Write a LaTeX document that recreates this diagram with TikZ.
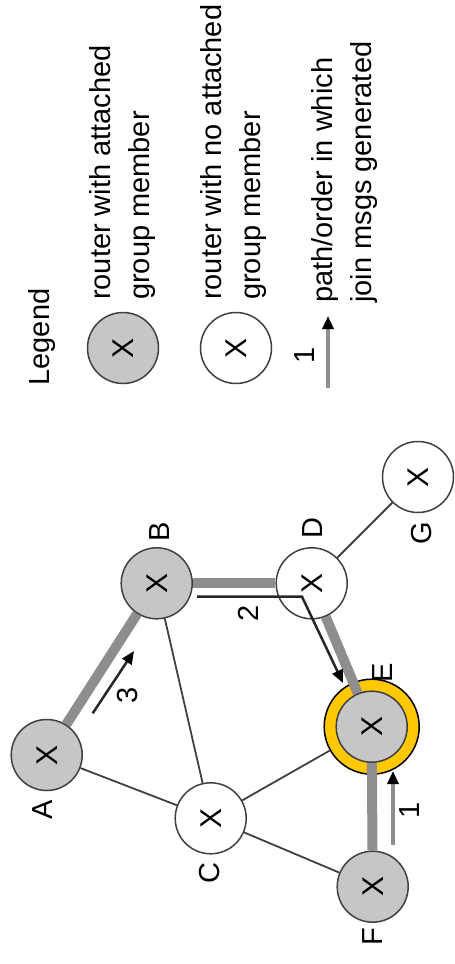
\documentclass[tikz,border=0pt]{standalone}
\usepackage{fontspec}
\setmainfont{Liberation Sans}
\usetikzlibrary{arrows.meta}
\definecolor{nodegray}{HTML}{C6C6C6}
\definecolor{bandgray}{HTML}{8E8E8E}
\definecolor{ringyellow}{HTML}{FFC800}
\definecolor{outlinegray}{HTML}{404040}
\pgfdeclarelayer{ringlayer}
\pgfdeclarelayer{edgelayer}
\pgfsetlayers{ringlayer,edgelayer,main}
\begin{document}
\begin{tikzpicture}[x=1pt,y=-1pt,
  router/.style={circle,minimum size=71pt,inner sep=0pt,draw=outlinegray,line width=1.5pt,
    font=\fontsize{30}{30}\selectfont,rotate=90},
  member/.style={router,fill=nodegray},
  plain/.style={router,fill=white},
  ringstyle/.style={circle,minimum size=95pt,inner sep=0pt,draw=black,line width=1.5pt,fill=ringyellow},
  lbl/.style={font=\fontsize{29}{29}\selectfont,rotate=90,inner sep=0pt},
  legtext/.style={font=\fontsize{29}{39}\selectfont,rotate=90,inner sep=0pt,align=left,anchor=west},
  band/.style={line width=10pt,draw=bandgray},
  link/.style={line width=1.8pt,draw=outlinegray},
  grayarrow/.style={line width=4pt,draw=bandgray,-{Triangle[length=13pt,width=11pt,color=black]}},
  blackarrow/.style={line width=2.5pt,draw=black!85,-{Triangle[length=13pt,width=11pt,color=black]}},
]
\useasboundingbox (0,0) rectangle (455,964);

% legend
\node[lbl] (leg) at (42,337) {Legend};
\node[member] (lm) at (123,348) {X};
\node[legtext] (lmt) at (122.5,300) {router with attached\\group member};
\node[plain] (lp) at (236,348) {X};
\node[legtext] (lpt) at (233,300) {router with no attached\\group member};
\coordinate (la1) at (328,388);
\coordinate (la2) at (328,316);
\draw[grayarrow] (la1) -- (la2);
\node[lbl] (l1) at (305,355) {1};
\node[legtext] (lat) at (344,303) {path/order in which\\join msgs generated};

% routers
\node[member] (A) at (46.7,755) {X};
\node[member] (B) at (156.7,583.3) {X};
\node[plain] (C) at (210.7,818.3) {X};
\node[plain] (D) at (311.7,583.3) {X};
\begin{pgfonlayer}{ringlayer}
\node[ringstyle] (Er) at (371.7,726.7) {};
\end{pgfonlayer}
\node[member] (E) at (371.7,726.7) {X};
\node[member] (F) at (372.7,886.7) {X};
\node[plain] (G) at (418,477) {X};

% labels
\node[lbl] (lA) at (43,810) {A};
\node[lbl] (lB) at (160,532) {B};
\node[lbl] (lC) at (210,873) {C};
\node[lbl] (lD) at (313,528) {D};
\node[lbl] (lE) at (383,673) {E};
\node[lbl] (lF) at (373,937) {F};
\node[lbl] (lG) at (422,533) {G};

% edges
\begin{pgfonlayer}{edgelayer}
\draw[band] (A) -- (B);
\draw[band] (B) -- (D);
\draw[band] (D) -- (E);
\draw[band] (E.center) ++(3,0) coordinate (ef) (F) -- (E);
\draw[link] (A) -- (C);
\draw[link] (B) -- (C);
\draw[link] (C) -- (Er);
\draw[link] (C) -- (F);
\draw[link] (D) -- (G);
\end{pgfonlayer}

% join arrows
\coordinate (a1s) at (393,845);
\coordinate (a1e) at (393,771);
\draw[grayarrow] (a1s) -- (a1e);
\node[lbl] (n1) at (410,810) {1};

\coordinate (a2s) at (197,596.7);
\coordinate (a2m) at (302,596.7);
\coordinate (a2e) at (343,683);
\draw[blackarrow] (a2s) -- (a2m) -- (a2e);
\node[lbl] (n2) at (248,613) {2};

\coordinate (a3s) at (92.7,713.3);
\coordinate (a3e) at (134,651);
\draw[blackarrow] (a3s) -- (a3e);
\node[lbl] (n3) at (128,695) {3};
\end{tikzpicture}
\end{document}
